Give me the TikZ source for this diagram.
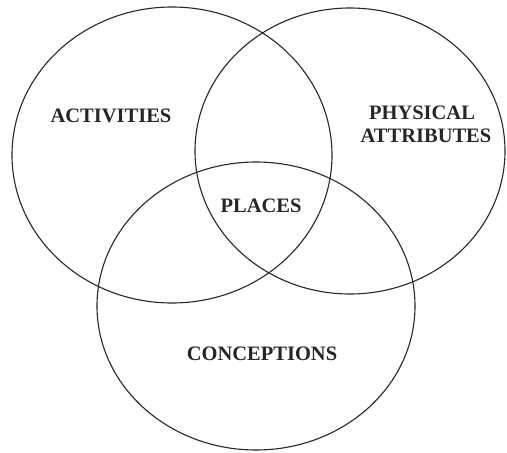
\documentclass[tikz,border=0pt]{standalone}
\usepackage{fontspec}
\setmainfont{Liberation Serif}
\begin{document}
\begin{tikzpicture}[x=1pt,y=-1pt,
  ring/.style={draw=black!85,line width=1.1pt},
  lbl/.style={font=\fontsize{20.5}{22}\selectfont\bfseries,inner sep=0pt,anchor=base,text=black!85}]
\useasboundingbox (0,0) rectangle (507,453);
\draw[ring] (172,155) ellipse [x radius=160,y radius=148];
\draw[ring] (350,151) ellipse [x radius=155,y radius=143];
\draw[ring] (256,306) ellipse [x radius=159,y radius=144];
\node[lbl] (act) at (111,122) {ACTIVITIES};
\node[lbl] (phy) at (422,119) {PHYSICAL};
\node[lbl] (att) at (426,142) {ATTRIBUTES};
\node[lbl] (pla) at (261,212) {PLACES};
\node[lbl] (con) at (262,360) {CONCEPTIONS};
\end{tikzpicture}
\end{document}
